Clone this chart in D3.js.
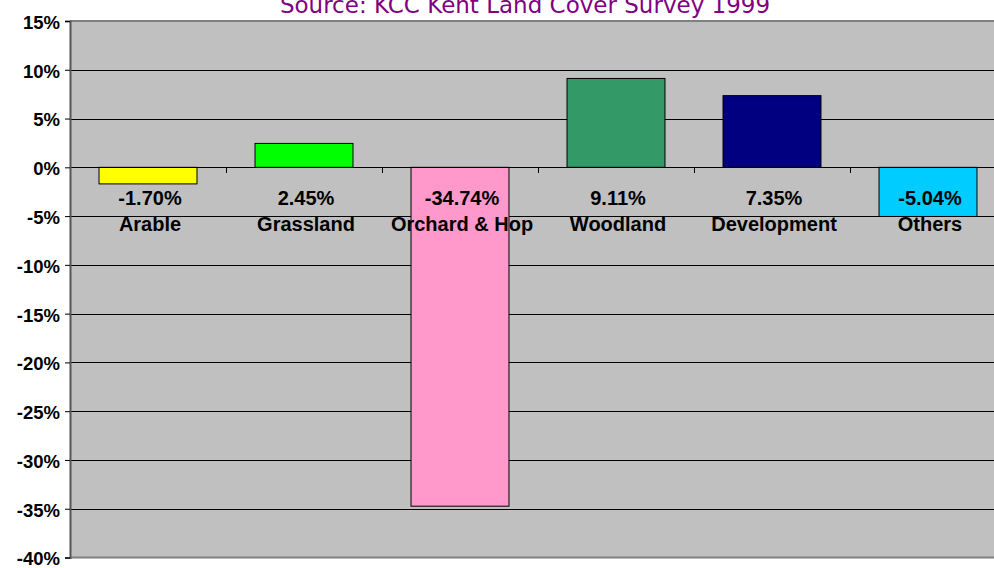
<!DOCTYPE html>
<html>
<head>
    <meta charset="utf-8">
    <title>Land Cover Change</title>
    <script src="https://d3js.org/d3.v7.min.js"></script>
    <style>
        body { margin: 0; background: #fff; }
        svg { display: block; }
    </style>
</head>
<body>
    <svg width="994" height="568"></svg>

    <script>
    // values (percentage change)
    const categories = ["Arable", "Grassland", "Orchard & Hop", "Woodland", "Development", "Others"];
    const changes = [-1.70, 2.45, -34.74, 9.11, 7.35, -5.04];
    const barColors = ["#FFFF00", "#00FF00", "#FF99CC", "#339966", "#000080", "#00CCFF"];
    const yTicks = [15, 10, 5, 0, -5, -10, -15, -20, -25, -30, -35, -40];
    const titleText = "Source: KCC Kent Land Cover Survey 1999";

    const data = categories.map((c, i) => ({ name: c, value: changes[i], color: barColors[i] }));

    const svg = d3.select("svg");
    const plotLeft = 70, plotRight = 1006, plotTop = 21, plotBottom = 557.5;

    const x = d3.scaleBand().domain(categories).range([plotLeft, plotRight]).padding(0);
    const y = d3.scaleLinear().domain([-40, 15]).range([plotBottom, plotTop]);
    const barW = x.bandwidth() * 0.628;

    // plain hyphen for the minus sign, like the original
    const fmt = d3.formatLocale({ decimal: ".", thousands: ",", grouping: [3], currency: ["", ""], minus: "-" }).format(".2f");

    // plot background
    svg.append("rect")
       .attr("x", plotLeft).attr("y", plotTop)
       .attr("width", plotRight - plotLeft).attr("height", plotBottom - plotTop)
       .attr("fill", "#C0C0C0");

    // gridlines
    svg.append("g")
       .selectAll("line")
       .data(yTicks.filter(d => d !== 15 && d !== -40))
       .enter().append("line")
       .attr("x1", plotLeft).attr("x2", plotRight)
       .attr("y1", d => Math.round(y(d)) + 0.5)
       .attr("y2", d => Math.round(y(d)) + 0.5)
       .attr("stroke", "#000")
       .attr("stroke-width", 1);

    // top / bottom border
    svg.append("line")
       .attr("x1", plotLeft).attr("x2", plotRight)
       .attr("y1", plotTop).attr("y2", plotTop)
       .attr("stroke", "#808080").attr("stroke-width", 2);
    svg.append("line")
       .attr("x1", plotLeft).attr("x2", plotRight)
       .attr("y1", plotBottom).attr("y2", plotBottom)
       .attr("stroke", "#808080").attr("stroke-width", 2);

    // bars
    svg.append("g")
       .selectAll("rect")
       .data(data)
       .enter().append("rect")
       .attr("x", d => x(d.name) + (x.bandwidth() - barW) / 2)
       .attr("y", d => y(Math.max(0, d.value)))
       .attr("width", barW)
       .attr("height", d => Math.abs(y(d.value) - y(0)))
       .attr("fill", d => d.color)
       .attr("stroke", "#000")
       .attr("stroke-width", 1);

    // zero line
    svg.append("line")
       .attr("x1", plotLeft).attr("x2", plotRight)
       .attr("y1", Math.round(y(0)) + 0.5).attr("y2", Math.round(y(0)) + 0.5)
       .attr("stroke", "#000");

    // category ticks on the zero line
    svg.append("g")
       .selectAll("line")
       .data(categories)
       .enter().append("line")
       .attr("x1", d => Math.round(x(d)) + 0.5)
       .attr("x2", d => Math.round(x(d)) + 0.5)
       .attr("y1", Math.round(y(0)))
       .attr("y2", Math.round(y(0)) + 6)
       .attr("stroke", "#000");

    // y axis
    const yAxis = svg.append("g")
       .attr("transform", `translate(${plotLeft},0)`)
       .call(d3.axisLeft(y).tickValues(yTicks).tickSize(5).tickFormat(d => d + "%"));
    yAxis.select(".domain").attr("stroke", "#555").attr("stroke-width", 2);
    yAxis.selectAll(".tick line").attr("stroke", "#000");
    yAxis.selectAll(".tick text")
       .attr("x", -10)
       .attr("dy", "0.4em")
       .style("font-family", "'Liberation Sans', Arial, sans-serif")
       .style("font-weight", "bold")
       .style("font-size", "18.5px")
       .attr("fill", "#000");

    // category labels: value + name
    const labels = svg.append("g")
       .selectAll("g")
       .data(data)
       .enter().append("g")
       .attr("transform", d => `translate(${x(d.name) + x.bandwidth() / 2 + 2},${y(0)})`)
       .style("font-family", "'Liberation Sans', Arial, sans-serif")
       .style("font-weight", "bold")
       .style("font-size", "20px")
       .attr("text-anchor", "middle");
    labels.append("text").attr("y", 37.5).text(d => fmt(d.value) + "%");
    labels.append("text").attr("y", 63.5).text(d => d.name);

    // title (partly above the top edge, as in the original)
    svg.append("text")
       .attr("x", 525)
       .attr("y", 13)
       .attr("text-anchor", "middle")
       .style("font-family", "'DejaVu Sans', Verdana, sans-serif")
       .style("font-size", "23px")
       .attr("fill", "#800080")
       .text(titleText);
    </script>
</body>
</html>
